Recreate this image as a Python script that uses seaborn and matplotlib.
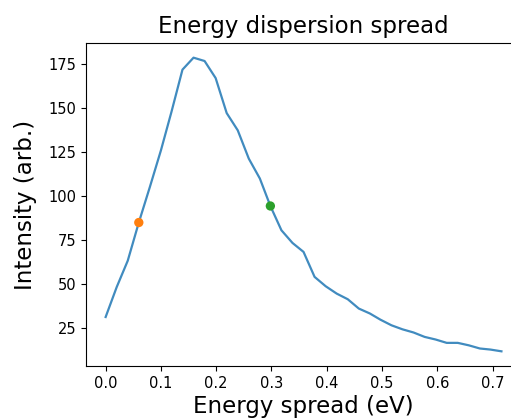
import matplotlib
matplotlib.use("Agg")
import matplotlib.pyplot as plt
import pandas as pd
import seaborn as sns

energy = [0.000, 0.020, 0.040, 0.060, 0.080, 0.100, 0.119, 0.139, 0.159, 0.179,
          0.199, 0.219, 0.239, 0.259, 0.279, 0.298, 0.318, 0.338, 0.358, 0.378,
          0.398, 0.418, 0.438, 0.458, 0.478, 0.497, 0.517, 0.537, 0.557, 0.577,
          0.597, 0.617, 0.637, 0.657, 0.677, 0.696, 0.716]
intensity = [31.0, 48.0, 63.0, 84.7, 104.9, 125.7, 147.5, 171.6, 178.4, 176.5,
             166.8, 146.9, 137.1, 121.0, 109.7, 94.1, 80.3, 73.1, 68.0, 53.8,
             48.5, 44.3, 41.1, 35.8, 33.0, 29.5, 26.3, 24.0, 22.2, 19.7,
             18.2, 16.3, 16.3, 14.9, 13.1, 12.5, 11.5]
marked = [3, 15]  # orange and green dots
marker_colors = ["C1", "C2"]

df = pd.DataFrame({"energy": energy, "intensity": intensity})

fig = plt.figure(figsize=(5.11, 4.19), dpi=100)
ax = fig.add_axes([0.168, 0.1265, 0.852, 0.7709])

sns.lineplot(data=df, x="energy", y="intensity", ax=ax, color="C0", alpha=0.85, lw=1.6)
for idx, c in zip(marked, marker_colors):
    sns.scatterplot(x=[energy[idx]], y=[intensity[idx]], ax=ax, color=c, s=45,
                    edgecolor="none", zorder=3)

ax.set_xticks([0.0, 0.1, 0.2, 0.3, 0.4, 0.5, 0.6, 0.7])
ax.set_yticks([25, 50, 75, 100, 125, 150, 175])
ax.tick_params(labelsize=10.5)
ax.set_title("Energy dispersion spread", fontsize=16.5, pad=7)
ax.set_xlabel("Energy spread (eV)", fontsize=16.5)
ax.set_ylabel("Intensity (arb.)", fontsize=16.5)
ax.xaxis.set_label_coords(0.5, -0.09)
ax.yaxis.set_label_coords(-0.112, 0.5)

fig.savefig("out.png", dpi=100)
